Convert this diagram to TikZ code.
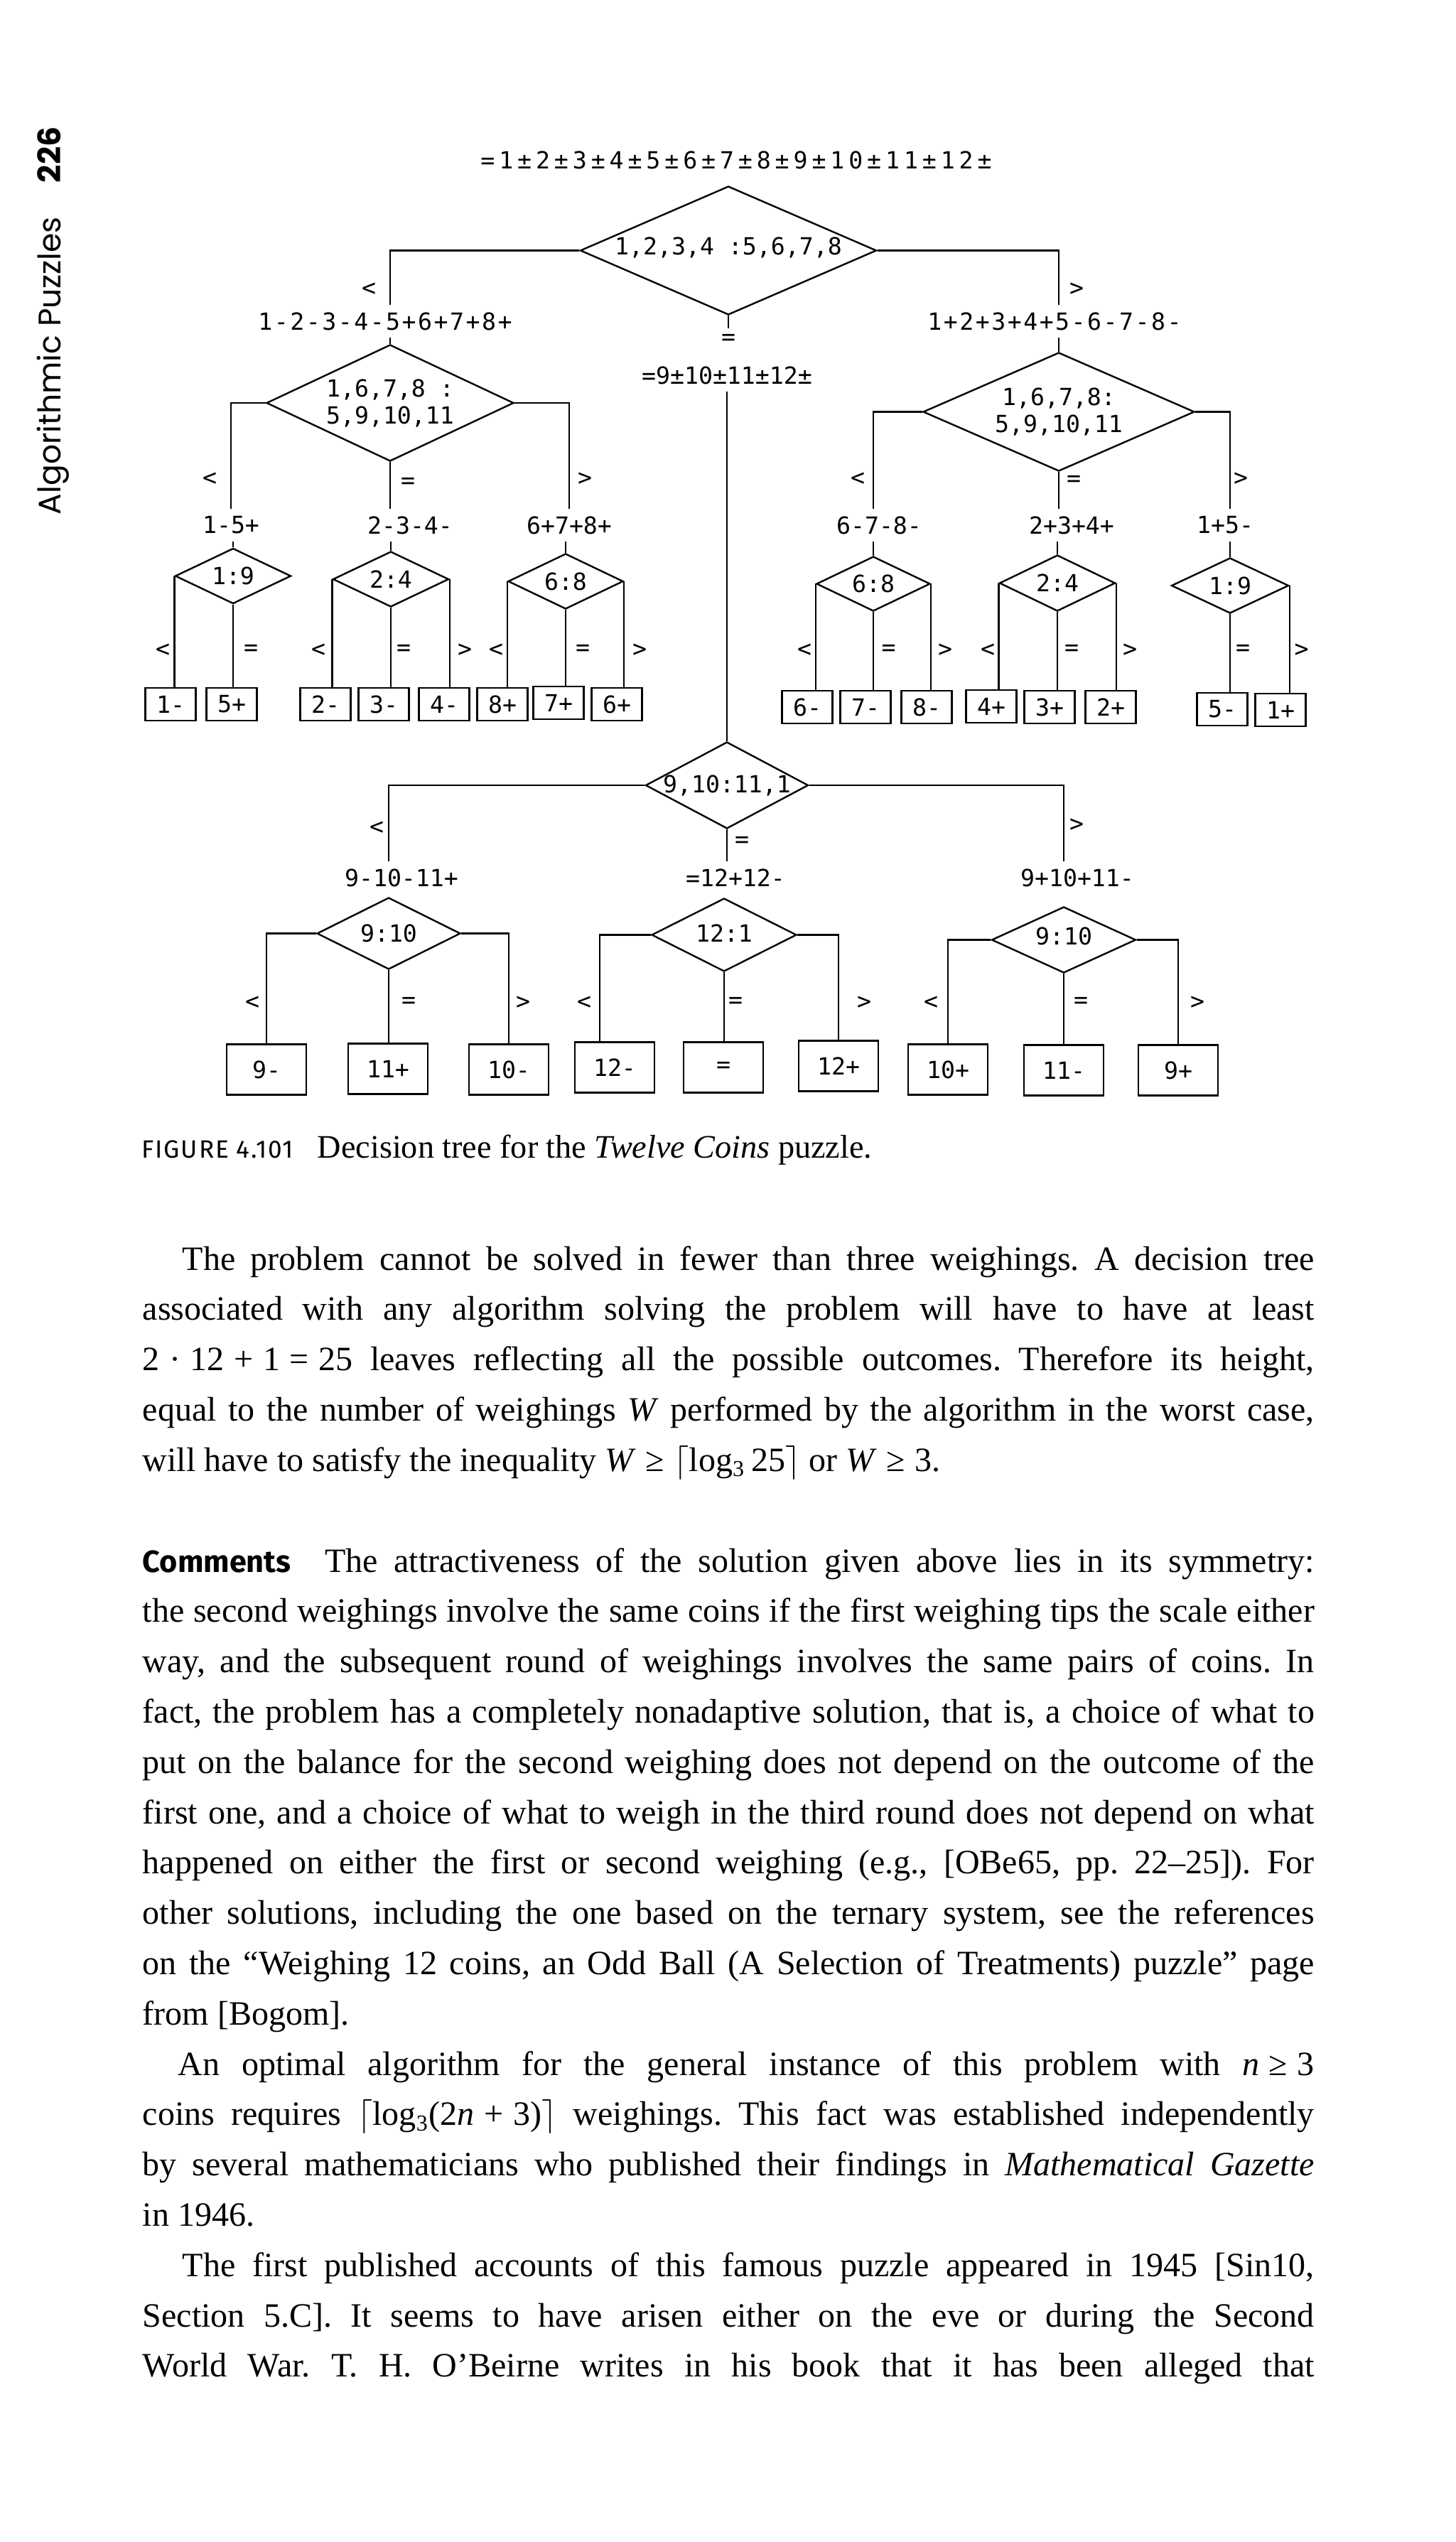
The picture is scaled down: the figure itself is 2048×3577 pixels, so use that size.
\documentclass[tikz,border=0pt]{standalone}
\usepackage{fontspec}
\usetikzlibrary{shapes.geometric}
\setmainfont{Liberation Serif}
\newfontfamily\dmono{DejaVu Sans Mono}
\newfontfamily\dmonoA[LetterSpace=7.5]{DejaVu Sans Mono}
\newfontfamily\dmonoB[LetterSpace=17.8]{DejaVu Sans Mono}
\newfontfamily\sidefont{Poppins}
\newfontfamily\capfont{Fira Sans}
\newcommand\jline[1]{\makebox[\linewidth][s]{#1}\par}
\newcommand\lline[1]{\makebox[\linewidth][l]{#1}\par}
\newcommand\dfont{\dmono\fontsize{8.3pt}{9.5pt}\selectfont}
\newcommand\msp{\hspace{3.4pt}}
\frenchspacing
\begin{document}
\begin{tikzpicture}[x=0.25pt,y=-0.25pt,
  lbl/.style={inner xsep=0pt, inner ysep=2.5pt, font=\dfont},
  cnd/.style={inner sep=0pt, font=\dfont},
  dia/.style={draw, diamond, inner sep=0pt, line width=0.6pt, font=\dfont},
  leafa/.style={draw, line width=0.6pt, inner sep=0pt, minimum width=17.75pt, minimum height=11.5pt, font=\dfont},
  leafb/.style={draw, line width=0.6pt, inner sep=0pt, minimum width=28pt, minimum height=17.75pt, font=\dfont},
  conn/.style={line width=0.6pt}]
\fill[white] (0,0) rectangle (2048,3577);
\useasboundingbox (0,0) rectangle (2048,3577);

% side header
\node[rotate=90, anchor=base west, inner sep=0pt] (side) at (85,725)
  {\sidefont\fontsize{11pt}{13pt}\selectfont Algorithmic Puzzles\hspace{12pt}{\bfseries 226}};

% ---------- tree ----------
\node[lbl, font=\dmonoB\fontsize{8.3pt}{9.5pt}\selectfont] (top) at (1036,225) {=1±2±3±4±5±6±7±8±9±10±11±12±};

\node[dia, minimum width=104.25pt, minimum height=45.25pt] (root) at (1025,352.5)
  {\raisebox{3.1pt}{\makebox[0pt]{1,2,3,4 :5,6,7,8}}};

\node[cnd] (c0l) at (519,407) {<};
\node[cnd] (c0r) at (1515,407) {>};
\node[cnd, inner sep=2pt] (eq0) at (1025,478) {=};

\node[lbl, font=\dmonoA\fontsize{8.3pt}{9.5pt}\selectfont] (lab1) at (542,452) {1-2-3-4-5+6+7+8+};
\node[lbl, font=\dmonoA\fontsize{8.3pt}{9.5pt}\selectfont] (lab2) at (1484,452) {1+2+3+4+5-6-7-8-};
\node[lbl] (labeq) at (1023,528) {=9±10±11±12±};

\node[dia, minimum width=87pt, minimum height=41pt, align=center] (dL) at (549,567)
  {\makebox[0pt]{1,6,7,8 :}\\\makebox[0pt]{5,9,10,11}};
\node[dia, minimum width=95.5pt, minimum height=41.75pt, align=center] (dR) at (1490,579.5)
  {\makebox[0pt]{1,6,7,8:}\\\makebox[0pt]{5,9,10,11}};

\draw[conn] (root.west) -| (dL.north |- lab1.north);
\draw[conn] (lab1.south -| dL.north) -- (dL.north);
\draw[conn] (root.east) -| (dR.north |- lab2.north);
\draw[conn] (lab2.south -| dR.north) -- (dR.north);
\draw[conn] (root.south) -- (eq0.north);

% level 2 conditions
\node[cnd] (c1a) at (295,674) {<};
\node[cnd] (c1b) at (574,680) {=};
\node[cnd] (c1c) at (823,674) {>};
\node[cnd] (c1d) at (1207,674) {<};
\node[cnd] (c1e) at (1511,677) {=};
\node[cnd] (c1f) at (1746,674) {>};

% level 3 labels
\node[lbl] (l31) at (325,739) {1-5+};
\node[lbl] (l32) at (577,739) {2-3-4-};
\node[lbl] (l33) at (801,739) {6+7+8+};
\node[lbl] (r31) at (1237,739) {6-7-8-};
\node[lbl] (r32) at (1508,739) {2+3+4+};
\node[lbl] (r33) at (1724,739) {1+5-};

% small diamonds
\node[dia, minimum width=40.75pt, minimum height=19.5pt] (dL1) at (328,810.5) {\makebox[0pt]{1:9}};
\node[dia, minimum width=40.75pt, minimum height=19.5pt] (dL2) at (550,815) {\makebox[0pt]{2:4}};
\node[dia, minimum width=40.5pt, minimum height=19.5pt] (dL3) at (796,818) {\makebox[0pt]{6:8}};
\node[dia, minimum width=40pt, minimum height=19.25pt] (dR1) at (1229,821.5) {\makebox[0pt]{6:8}};
\node[dia, minimum width=40.75pt, minimum height=19.75pt] (dR2) at (1488,820.5) {\makebox[0pt]{2:4}};
\node[dia, minimum width=41.25pt, minimum height=19.5pt] (dR3) at (1731,824) {\makebox[0pt]{1:9}};

\draw[conn] (dL.west) -| (l31.north);
\draw[conn] (dL.south) -- (dL.south |- l32.north);
\draw[conn] (dL.east) -| (l33.north);
\draw[conn] (l31.south -| dL1.north) -- (dL1.north);
\draw[conn] (l32.south -| dL2.north) -- (dL2.north);
\draw[conn] (l33.south -| dL3.north) -- (dL3.north);
\draw[conn] (dR.west) -| (dR1.north |- r31.north);
\draw[conn] (dR.south) -- (dR.south |- r32.north);
\draw[conn] (dR.east) -| (dR3.north |- r33.north);
\draw[conn] (r31.south -| dR1.north) -- (dR1.north);
\draw[conn] (r32.south -| dR2.north) -- (dR2.north);
\draw[conn] (r33.south -| dR3.north) -- (dR3.north);

% row 1 conditions
\node[cnd] (k1) at (229,915) {<};
\node[cnd] (k2) at (353,915) {=};
\node[cnd] (k3) at (448,915) {<};
\node[cnd] (k4) at (568,915) {=};
\node[cnd] (k5) at (654,915) {>};
\node[cnd] (k6) at (698,915) {<};
\node[cnd] (k7) at (820,915) {=};
\node[cnd] (k8) at (900,915) {>};
\node[cnd] (k9) at (1132,915) {<};
\node[cnd] (k10) at (1250.5,915) {=};
\node[cnd] (k11) at (1330,915) {>};
\node[cnd] (k12) at (1390,915) {<};
\node[cnd] (k13) at (1508,915) {=};
\node[cnd] (k14) at (1590,915) {>};
\node[cnd] (k15) at (1749,915) {=};
\node[cnd] (k16) at (1831.5,915) {>};

% row 1 leaves
\node[leafa] (a1) at (240,991) {1-};
\node[leafa] (a2) at (326,991) {5+};
\node[leafa] (a3) at (458,991) {2-};
\node[leafa] (a4) at (540,991) {3-};
\node[leafa] (a5) at (625,991) {4-};
\node[leafa] (a6) at (707,991) {8+};
\node[leafa] (a7) at (786,989) {7+};
\node[leafa] (a8) at (868,991) {6+};
\node[leafa] (a9) at (1136,995) {6-};
\node[leafa] (a10) at (1218,995) {7-};
\node[leafa] (a11) at (1304,995) {8-};
\node[leafa] (a12) at (1395,994) {4+};
\node[leafa] (a13) at (1477,995) {3+};
\node[leafa] (a14) at (1563,995) {2+};
\node[leafa] (a15) at (1720,998) {5-};
\node[leafa] (a16) at (1802,999) {1+};

\draw[conn] (dL1.west) -- (dL1.west |- a1.north);
\draw[conn] (dL1.south) -- (dL1.south |- a2.north);
\draw[conn] (dL2.west) -- (dL2.west |- a3.north);
\draw[conn] (dL2.south) -- (dL2.south |- a4.north);
\draw[conn] (dL2.east) -- (dL2.east |- a5.north);
\draw[conn] (dL3.west) -- (dL3.west |- a6.north);
\draw[conn] (dL3.south) -- (dL3.south |- a7.north);
\draw[conn] (dL3.east) -- (dL3.east |- a8.north);
\draw[conn] (dR1.west) -- (dR1.west |- a9.north);
\draw[conn] (dR1.south) -- (dR1.south |- a10.north);
\draw[conn] (dR1.east) -- (dR1.east |- a11.north);
\draw[conn] (dR2.west) -- (dR2.west |- a12.north);
\draw[conn] (dR2.south) -- (dR2.south |- a13.north);
\draw[conn] (dR2.east) -- (dR2.east |- a14.north);
\draw[conn] (dR3.south) -- (dR3.south |- a15.north);
\draw[conn] (dR3.east) -- (dR3.east |- a16.north);

% middle subtree
\node[dia, minimum width=57.25pt, minimum height=30.5pt] (dM) at (1023,1105) {\makebox[0pt]{9,10:11,1}};
\draw[conn] (labeq.south) -- (dM.north);

\node[cnd] (cm1) at (530,1165) {<};
\node[cnd] (cm2) at (1044,1185) {=};
\node[cnd] (cm3) at (1515,1161) {>};

\node[lbl] (m31) at (565,1235) {9-10-11+};
\node[lbl] (m32) at (1035,1235) {=12+12-};
\node[lbl] (m33) at (1516,1235) {9+10+11-};

\node[dia, minimum width=50.5pt, minimum height=25.25pt] (dM1) at (547,1313.5) {\makebox[0pt]{9:10}};
\node[dia, minimum width=51pt, minimum height=25.75pt] (dM2) at (1019,1315.5) {\raisebox{1pt}{\makebox[0pt]{12:1}}};
\node[dia, minimum width=50.75pt, minimum height=23.25pt] (dM3) at (1497,1322.5) {\raisebox{2.9pt}{\makebox[0pt]{9:10}}};

\draw[conn] (dM.west) -| (dM1.north |- m31.north);
\draw[conn] (dM.south) -- (dM.south |- m32.north);
\draw[conn] (dM.east) -| (dM3.north |- m33.north);

\node[cnd] (q1) at (355,1411) {<};
\node[cnd] (q2) at (575,1411) {=};
\node[cnd] (q3) at (736,1411) {>};
\node[cnd] (q4) at (822,1411) {<};
\node[cnd] (q5) at (1035,1411) {=};
\node[cnd] (q6) at (1216,1411) {>};
\node[cnd] (q7) at (1310,1411) {<};
\node[cnd] (q8) at (1521,1411) {=};
\node[cnd] (q9) at (1685,1411) {>};

\node[leafb] (b1) at (375,1505) {9-};
\node[leafb] (b2) at (546,1504) {11+};
\node[leafb] (b3) at (716,1505) {10-};
\node[leafb] (b4) at (865,1502) {12-};
\node[leafb] (b5) at (1018,1502) {=};
\node[leafb] (b6) at (1180,1500) {12+};
\node[leafb] (b7) at (1334,1505) {10+};
\node[leafb] (b8) at (1497,1506) {11-};
\node[leafb] (b9) at (1658,1506) {9+};

\draw[conn] (dM1.west) -| (b1.north);
\draw[conn] (dM1.south) -- (dM1.south |- b2.north);
\draw[conn] (dM1.east) -| (b3.north);
\draw[conn] (dM2.west) -| ([xshift=-5.25pt]b4.north);
\draw[conn] (dM2.south) -- (dM2.south |- b5.north);
\draw[conn] (dM2.east) -| (b6.north);
\draw[conn] (dM3.west) -| (b7.north);
\draw[conn] (dM3.south) -- (dM3.south |- b8.north);
\draw[conn] (dM3.east) -| (b9.north);

% caption
\node[anchor=base west, inner sep=0pt] (cap) at (199,1629)
  {{\capfont\fontsize{8.8pt}{10pt}\selectfont\addfontfeature{LetterSpace=5}FIGURE 4.101}\hspace{8.5pt}{\fontsize{11.55pt}{13pt}\selectfont Decision tree for the \textit{Twelve Coins} puzzle.}};

% body text
\node[anchor=base west, inner sep=0pt] (p1) at (200,1787) {\parbox[t]{412.25pt}{\fontsize{12pt}{17.7pt}\selectfont
\jline{\hspace*{14pt}The problem cannot be solved in fewer than three weighings. A decision tree}
\jline{associated with any algorithm solving the problem will have to have at least}
\jline{\mbox{2\msp·\msp12\msp+\msp1\msp=\msp25} leaves reflecting all the possible outcomes. Therefore its height,}
\jline{equal to the number of weighings \textit{W} performed by the algorithm in the worst case,}
\lline{will have to satisfy the inequality \mbox{\textit{W}\msp≥\msp$\lceil$log\textsubscript{3}\hspace{2pt}25$\rceil$} or \mbox{\textit{W}\msp≥\msp3}.}}};

\node[anchor=base west, inner sep=0pt] (p2) at (200,2212) {\parbox[t]{412.25pt}{\fontsize{12pt}{17.7pt}\selectfont
\jline{{\capfont\bfseries\fontsize{10.8pt}{12pt}\selectfont Comments}\hspace*{12pt}The attractiveness of the solution given above lies in its symmetry:}
\jline{the second weighings involve the same coins if the first weighing tips the scale either}
\jline{way, and the subsequent round of weighings involves the same pairs of coins. In}
\jline{fact, the problem has a completely nonadaptive solution, that is, a choice of what to}
\jline{put on the balance for the second weighing does not depend on the outcome of the}
\jline{first one, and a choice of what to weigh in the third round does not depend on what}
\jline{happened on either the first or second weighing (e.g., [OBe65, pp.~22--25]). For}
\jline{other solutions, including the one based on the ternary system, see the references}
\jline{on the “Weighing 12 coins, an Odd Ball (A Selection of Treatments) puzzle” page}
\lline{from [Bogom].}
\jline{\hspace*{12.5pt}An optimal algorithm for the general instance of this problem with \mbox{\textit{n}\msp≥\msp3}}
\jline{coins requires \mbox{$\lceil$log\textsubscript{3}(2\textit{n}\msp+\msp3)$\rceil$} weighings. This fact was established independently}
\jline{by several mathematicians who published their findings in \textit{Mathematical Gazette}}
\lline{in 1946.}
\jline{\hspace*{14pt}The first published accounts of this famous puzzle appeared in 1945 [Sin10,}
\jline{Section 5.C]. It seems to have arisen either on the eve or during the Second}
\jline{World War. T.~H. O’Beirne writes in his book that it has been alleged that}}};
\end{tikzpicture}
\end{document}
